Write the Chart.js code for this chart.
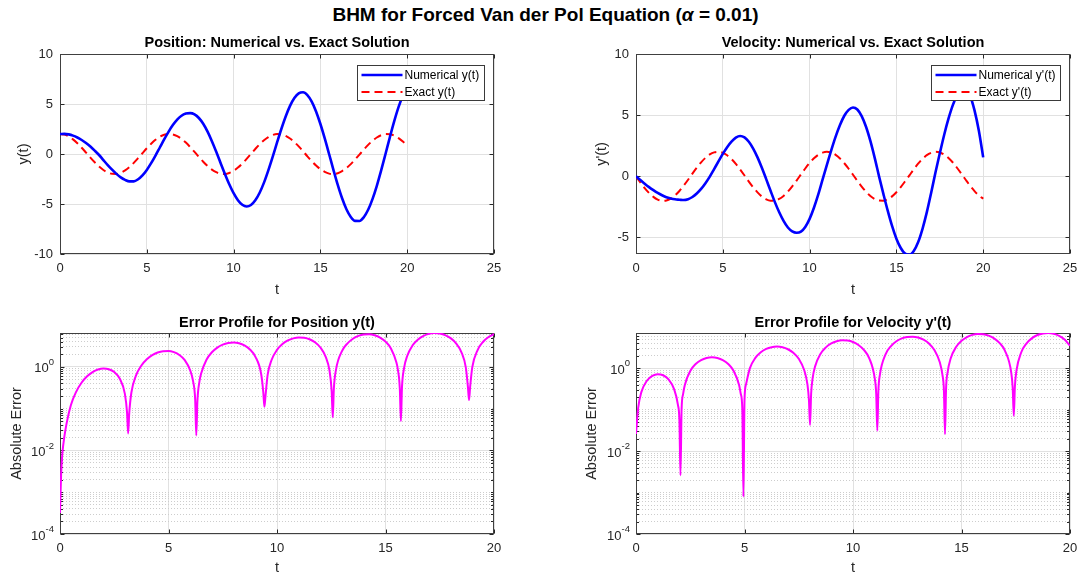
<!DOCTYPE html>
<html>
<head>
<meta charset="utf-8">
<title>BHM for Forced Van der Pol Equation</title>
<script src="https://cdn.jsdelivr.net/npm/chart.js@4.4.0/dist/chart.umd.min.js"></script>
<style>
  body { margin: 0; background: #fff; }
  #page { position: relative; width: 1091px; height: 579px; overflow: hidden; background: #fff;
          font-family: "Liberation Sans", Arial, Helvetica, sans-serif; }
  #mainTitle { position: absolute; left: 0; top: 4px; width: 1091px; line-height: 22px; text-align: center;
               font-size: 19px; font-weight: bold; color: #000; }
  .panel { position: absolute; }
</style>
</head>
<body>
<div id="page">
  <div id="mainTitle">BHM for Forced Van der Pol Equation (<i>α</i> = 0.01)</div>
  <div class="panel" style="left:0;top:30px;width:545px;height:275px"><canvas id="posChart"></canvas></div>
  <div class="panel" style="left:545px;top:30px;width:546px;height:275px"><canvas id="velChart"></canvas></div>
  <div class="panel" style="left:0;top:305px;width:545px;height:274px"><canvas id="posErrChart"></canvas></div>
  <div class="panel" style="left:545px;top:305px;width:546px;height:274px"><canvas id="velErrChart"></canvas></div>
</div>
<script>
// time grid of the solution curves
const tGrid = [0, 0.25, 0.5, 0.75, 1, 1.25, 1.5, 1.75, 2, 2.25, 2.5, 2.75, 3, 3.25, 3.5, 3.75, 4,
  4.25, 4.5, 4.75, 5, 5.25, 5.5, 5.75, 6, 6.25, 6.5, 6.75, 7, 7.25, 7.5, 7.75, 8,
  8.25, 8.5, 8.75, 9, 9.25, 9.5, 9.75, 10, 10.25, 10.5, 10.75, 11, 11.25, 11.5, 11.75, 12,
  12.25, 12.5, 12.75, 13, 13.25, 13.5, 13.75, 14, 14.25, 14.5, 14.75, 15, 15.25, 15.5, 15.75, 16,
  16.25, 16.5, 16.75, 17, 17.25, 17.5, 17.75, 18, 18.25, 18.5, 18.75, 19, 19.25, 19.5, 19.75, 20];

const yNumerical = [2.00, 2.01, 1.96, 1.84, 1.65, 1.40, 1.10, 0.75, 0.34,
  -0.10, -0.61, -1.11, -1.57, -1.99, -2.34, -2.59, -2.74,
  -2.74, -2.53, -2.14, -1.59, -0.92, -0.16, 0.65, 1.46,
  2.22, 2.89, 3.44, 3.83, 4.04, 4.09, 3.96, 3.60,
  3.02, 2.23, 1.28, 0.22, -0.90, -2.00, -3.03, -3.92,
  -4.62, -5.08, -5.25, -5.10, -4.63, -3.87, -2.86, -1.63,
  -0.28, 1.13, 2.50, 3.75, 4.81, 5.60, 6.07, 6.17,
  5.88, 5.23, 4.25, 3.00, 1.56, 0.00, -1.58, -3.09,
  -4.43, -5.52, -6.29, -6.69, -6.70, -6.32, -5.58, -4.51,
  -3.18, -1.64, 0.00, 1.67, 3.26, 4.68, 5.86, 6.72];

const yExact = [2.00, 1.94, 1.76, 1.46, 1.08, 0.63, 0.14, -0.36, -0.83,
  -1.26, -1.60, -1.85, -1.98, -1.99, -1.87, -1.64, -1.31,
  -0.89, -0.42, 0.08, 0.57, 1.02, 1.42, 1.72, 1.92,
  2.00, 1.95, 1.79, 1.51, 1.14, 0.69, 0.21, -0.29,
  -0.77, -1.20, -1.56, -1.82, -1.97, -1.99, -1.90, -1.68,
  -1.36, -0.95, -0.49, 0.01, 0.50, 0.97, 1.37, 1.69,
  1.90, 2.00, 1.97, 1.81, 1.55, 1.19, 0.76, 0.27,
  -0.23, -0.71, -1.15, -1.52, -1.79, -1.96, -2.00, -1.92,
  -1.71, -1.40, -1.01, -0.55, -0.06, 0.44, 0.91, 1.32,
  1.65, 1.88, 1.99, 1.98, 1.84, 1.59, 1.24, 0.82];

const vNumerical = [0.00, -0.30, -0.60, -0.88, -1.13, -1.36, -1.55, -1.71, -1.81,
  -1.88, -1.91, -1.94, -1.87, -1.69, -1.41, -1.03, -0.56,
  -0.02, 0.59, 1.22, 1.83, 2.38, 2.83, 3.16, 3.30,
  3.18, 2.83, 2.27, 1.55, 0.70, -0.23, -1.18, -2.11,
  -2.94, -3.64, -4.18, -4.50, -4.61, -4.52, -4.14, -3.48,
  -2.57, -1.48, -0.25, 0.96, 2.15, 3.25, 4.20, 4.95,
  5.43, 5.63, 5.46, 4.92, 4.05, 2.89, 1.51, 0.00,
  -1.43, -2.81, -4.06, -5.10, -5.86, -6.32, -6.41, -6.10,
  -5.39, -4.31, -2.95, -1.36, 0.31, 1.88, 3.38, 4.71,
  5.82, 6.63, 7.11, 7.15, 6.57, 5.39, 3.72, 1.55];

const vExact = [0.00, -0.49, -0.96, -1.36, -1.68, -1.90, -2.00, -1.97, -1.82,
  -1.56, -1.20, -0.76, -0.28, 0.22, 0.70, 1.14, 1.51,
  1.79, 1.96, 2.00, 1.92, 1.72, 1.41, 1.02, 0.56,
  0.07, -0.43, -0.90, -1.31, -1.65, -1.88, -1.99, -1.98,
  -1.85, -1.60, -1.25, -0.82, -0.35, 0.15, 0.64, 1.09,
  1.47, 1.76, 1.94, 2.00, 1.94, 1.75, 1.46, 1.07,
  0.62, 0.13, -0.37, -0.84, -1.26, -1.61, -1.85, -1.98,
  -1.99, -1.87, -1.64, -1.30, -0.88, -0.41, 0.08, 0.58,
  1.03, 1.42, 1.73, 1.92, 2.00, 1.95, 1.78, 1.50,
  1.13, 0.68, 0.20, -0.30, -0.78, -1.21, -1.57, -1.83];

// error profiles (denser around the dips)
const tErrPos = [0, 0.05, 0.1, 0.15, 0.25, 0.5, 0.75, 1, 1.25, 1.5, 1.75, 2, 2.25, 2.5, 2.75,
  2.99, 3.09, 3.14, 3.19, 3.29,
  3.5, 3.75, 4, 4.25, 4.5, 4.75, 5, 5.25, 5.5, 5.75, 6,
  6.13, 6.23, 6.28, 6.33, 6.43,
  6.5, 6.75, 7, 7.25, 7.5, 7.75, 8, 8.25, 8.5, 8.75, 9,
  9.27, 9.37, 9.42, 9.47, 9.57,
  9.75, 10, 10.25, 10.5, 10.75, 11, 11.25, 11.5, 11.75, 12, 12.25,
  12.42, 12.52, 12.57, 12.62, 12.72,
  13, 13.25, 13.5, 13.75, 14, 14.25, 14.5, 14.75, 15, 15.25, 15.5,
  15.56, 15.66, 15.71, 15.76, 15.86,
  16, 16.25, 16.5, 16.75, 17, 17.25, 17.5, 17.75, 18, 18.25, 18.5,
  18.7, 18.8, 18.85, 18.9, 19,
  19.25, 19.5, 19.75, 20];

const errPos = [0.00032, 0.0025, 0.0075, 0.0135, 0.031, 0.120, 0.256, 0.421, 0.593, 0.748, 0.861, 0.909, 0.875, 0.748, 0.525,
  0.226, 0.080, 0.0255, 0.077, 0.243,
  0.614, 1.072, 1.514, 1.902, 2.199, 2.373, 2.397, 2.244, 1.923, 1.442, 0.824,
  0.459, 0.162, 0.0228, 0.144, 0.459,
  0.683, 1.479, 2.234, 2.891, 3.400, 3.717, 3.809, 3.649, 3.242, 2.605, 1.760,
  0.675, 0.242, 0.111, 0.202, 0.651,
  1.460, 2.540, 3.501, 4.275, 4.806, 5.050, 4.972, 4.574, 3.871, 2.898, 1.705,
  0.807, 0.258, 0.0615, 0.300, 0.861,
  2.404, 3.657, 4.710, 5.491, 5.944, 6.006, 5.694, 5.017, 4.019, 2.748, 1.291,
  0.923, 0.301, 0.0503, 0.327, 0.954,
  1.820, 3.271, 4.527, 5.508, 6.153, 6.415, 6.278, 5.749, 4.859, 3.661, 2.227,
  0.971, 0.324, 0.160, 0.329, 0.980,
  2.556, 3.981, 5.167, 6.025];

const tErrVel = [0, 0.1, 0.25, 0.5, 0.75, 1, 1.25, 1.5, 1.75,
  1.93, 2.0, 2.05, 2.1, 2.17,
  2.25, 2.5, 2.75, 3, 3.25, 3.5, 3.75, 4, 4.25, 4.5, 4.75,
  4.83, 4.9, 4.95, 5.0, 5.07,
  5.25, 5.5, 5.75, 6, 6.25, 6.5, 6.75, 7, 7.25, 7.5, 7.75,
  7.9, 7.97, 8.02, 8.07, 8.14,
  8.25, 8.5, 8.75, 9, 9.25, 9.5, 9.75, 10, 10.25, 10.5, 10.75,
  11.0, 11.07, 11.12, 11.17, 11.24,
  11.5, 11.75, 12, 12.25, 12.5, 12.75, 13, 13.25, 13.5, 13.75, 14,
  14.12, 14.19, 14.24, 14.29, 14.36,
  14.5, 14.75, 15, 15.25, 15.5, 15.75, 16, 16.25, 16.5, 16.75, 17,
  17.29, 17.36, 17.41, 17.46, 17.53,
  17.75, 18, 18.25, 18.5, 18.75, 19, 19.25, 19.5, 19.75, 20];

const errVel = [0.026, 0.110, 0.269, 0.499, 0.657, 0.720, 0.678, 0.538, 0.319,
  0.132, 0.055, 0.0026, 0.100, 0.239,
  0.396, 0.862, 1.265, 1.577, 1.773, 1.840, 1.773, 1.577, 1.265, 0.862, 0.396,
  0.239, 0.100, 0.00079, 0.170, 0.408,
  1.006, 1.777, 2.432, 2.928, 3.234, 3.330, 3.208, 2.877, 2.359, 1.690, 0.907,
  0.408, 0.170, 0.043, 0.240, 0.575,
  1.095, 2.216, 3.195, 3.971, 4.493, 4.728, 4.661, 4.296, 3.657, 2.786, 1.737,
  0.575, 0.240, 0.031, 0.292, 0.700,
  2.169, 3.444, 4.500, 5.274, 5.715, 5.795, 5.509, 4.884, 3.961, 2.757, 1.390,
  0.700, 0.292, 0.0255, 0.334, 0.799,
  1.717, 3.264, 4.610, 5.675, 6.393, 6.721, 6.640, 6.150, 5.285, 4.099, 2.662,
  0.800, 0.334, 0.071, 0.360, 0.861,
  2.398, 3.997, 5.340, 6.343, 6.940, 7.094, 6.794, 6.066, 4.946, 3.507];

// tick labels
const stateXTicks = [0, 5, 10, 15, 20, 25];
const posYTicks = [-10, -5, 0, 5, 10];
const velYTicks = [-5, 0, 5, 10];
const errXTicks = [0, 5, 10, 15, 20];
const errYMajor = [1e-4, 1e-2, 1];

const FONT = '"Liberation Sans", Arial, Helvetica, sans-serif';
const TEXT = '#262626';
const GRID = '#e1e1e1';
const MINOR_GRID = '#cdcdcd';

Chart.defaults.font.family = FONT;
Chart.defaults.font.size = 13;
Chart.defaults.color = TEXT;

function pts(xs, ys) {
  return xs.map((x, i) => ({x: x, y: ys[i]}));
}

function isMajor(v) {
  return errYMajor.some(m => Math.abs(Math.log10(v) - Math.log10(m)) < 1e-6);
}

// 1..9 x 10^n grid positions for the log axes
function logGrid(max) {
  const out = [];
  for (let e = -4; e <= 1; e++) {
    for (let k = 1; k <= 9; k++) {
      const v = k * Math.pow(10, e);
      if (v <= max * 1.0001) out.push(v);
    }
  }
  return out;
}

// box around the axes with small inward ticks, like the original figure
const axesFrame = {
  id: 'axesFrame',
  beforeDatasetsDraw(chart) {
    const {ctx, chartArea: a, scales} = chart;
    const L = Math.round(a.left) + 0.5, R = Math.round(a.right) - 0.5;
    const T = Math.round(a.top) + 0.5, B = Math.round(a.bottom) - 0.5;
    ctx.save();
    ctx.strokeStyle = TEXT;
    ctx.lineWidth = 1;
    ctx.beginPath();
    scales.x.ticks.forEach(t => {
      const px = Math.round(scales.x.getPixelForValue(t.value)) + 0.5;
      ctx.moveTo(px, B); ctx.lineTo(px, B - 4);
      ctx.moveTo(px, T); ctx.lineTo(px, T + 4);
    });
    const logY = scales.y.type === 'logarithmic';
    scales.y.ticks.forEach(t => {
      const len = (!logY || isMajor(t.value)) ? 4 : 2.5;
      const py = Math.round(scales.y.getPixelForValue(t.value)) + 0.5;
      ctx.moveTo(L, py); ctx.lineTo(L + len, py);
      ctx.moveTo(R, py); ctx.lineTo(R - len, py);
    });
    ctx.stroke();
    ctx.strokeStyle = '#404040';
    ctx.strokeRect(L, T, R - L, B - T);
    ctx.restore();
  }
};

// legend box in the upper right corner of the axes
const boxLegend = {
  id: 'boxLegend',
  afterDatasetsDraw(chart, args, opts) {
    if (!opts || !opts.show) return;
    const {ctx, chartArea: a} = chart;
    const sets = chart.data.datasets;
    ctx.save();
    ctx.font = '12px ' + FONT;
    const textW = Math.max(...sets.map(d => ctx.measureText(d.label).width));
    const sample = 41;
    const w = Math.round(4 + sample + 2 + textW + 5);
    const h = 35;
    const x = Math.round(a.right - 10 - w) + 0.5;
    const y = Math.round(a.top + 11) + 0.5;
    ctx.fillStyle = '#fff';
    ctx.fillRect(x, y, w, h);
    ctx.strokeStyle = '#3a3a3a';
    ctx.lineWidth = 1;
    ctx.strokeRect(x, y, w, h);
    sets.forEach((d, i) => {
      const cy = y + 9.5 + i * 17;
      ctx.beginPath();
      ctx.setLineDash(d.borderDash || []);
      ctx.lineWidth = d.borderWidth;
      ctx.strokeStyle = d.borderColor;
      ctx.moveTo(x + 4, cy);
      ctx.lineTo(x + 4 + sample, cy);
      ctx.stroke();
      ctx.setLineDash([]);
      ctx.fillStyle = '#000';
      ctx.textBaseline = 'middle';
      ctx.textAlign = 'left';
      ctx.fillText(d.label, x + 4 + sample + 2, cy + 0.5);
    });
    ctx.restore();
  }
};

// 10^n labels with raised exponent for the log axes
const logLabels = {
  id: 'logLabels',
  afterDraw(chart, args, opts) {
    if (!opts || !opts.show) return;
    const {ctx, chartArea: a} = chart;
    const ys = chart.scales.y;
    ctx.save();
    ctx.fillStyle = TEXT;
    ctx.textBaseline = 'middle';
    ctx.textAlign = 'left';
    errYMajor.forEach(v => {
      const py = ys.getPixelForValue(v);
      const exp = String(Math.round(Math.log10(v)));
      ctx.font = '9.5px ' + FONT;
      const we = ctx.measureText(exp).width;
      ctx.font = '13px ' + FONT;
      const wb = ctx.measureText('10').width;
      const xr = a.left - 6;
      ctx.fillText('10', xr - we - wb, py + 2);
      ctx.font = '9.5px ' + FONT;
      ctx.fillText(exp, xr - we, py - 4.5);
    });
    ctx.restore();
  }
};

function makeChart(id, c) {
  const logY = !!c.log;
  const yScale = logY ? {
    type: 'logarithmic',
    min: 1e-4,
    max: c.yMax,
    afterBuildTicks: s => { s.ticks = logGrid(c.yMax).map(v => ({value: v})); },
    afterFit: s => { s.width = c.yAxisW; },
    grid: {
      drawTicks: false,
      lineWidth: 1,
      color: ctx => (ctx.tick && isMajor(ctx.tick.value)) ? GRID : MINOR_GRID
    },
    border: {
      display: false,
      dash: ctx => (ctx.tick && !isMajor(ctx.tick.value)) ? [1, 2] : []
    },
    ticks: {display: false},
    title: {display: true, text: c.yLabel, font: {size: 14.5}, color: TEXT, padding: {top: c.yTitlePad, bottom: 0}}
  } : {
    type: 'linear',
    min: c.yMin,
    max: c.yMax,
    afterBuildTicks: s => { s.ticks = c.yTicks.map(v => ({value: v})); },
    afterFit: s => { s.width = c.yAxisW; },
    grid: {drawTicks: false, lineWidth: 1, color: GRID},
    border: {display: false},
    ticks: {padding: 7, font: {size: 13}, color: TEXT, callback: v => String(v)},
    title: {display: true, text: c.yLabel, font: {size: 14.5}, color: TEXT, padding: {top: c.yTitlePad, bottom: 0}}
  };

  return new Chart(document.getElementById(id), {
    type: 'line',
    data: {datasets: c.datasets},
    options: {
      animation: false,
      responsive: true,
      maintainAspectRatio: false,
      events: [],
      layout: {padding: {left: 0, top: 0, bottom: 0, right: c.padRight}},
      elements: {point: {radius: 0}, line: {cubicInterpolationMode: 'monotone'}},
      plugins: {
        legend: {display: false},
        tooltip: {enabled: false},
        title: {
          display: true, text: c.title, fullSize: false, color: '#000',
          font: {size: 14.5, weight: 'bold'},
          padding: {top: c.titleTop, bottom: c.titleBottom}
        },
        boxLegend: {show: !logY},
        logLabels: {show: logY}
      },
      scales: {
        x: {
          type: 'linear',
          min: 0,
          max: c.xMax,
          afterBuildTicks: s => { s.ticks = c.xTicks.map(v => ({value: v})); },
          afterFit: s => { s.height = c.xAxisH; },
          grid: {drawTicks: false, lineWidth: 1, color: GRID},
          border: {display: false},
          ticks: {padding: 7, maxRotation: 0, autoSkip: false, font: {size: 13}, color: TEXT, callback: v => String(v)},
          title: {display: true, text: 't', font: {size: 14.5}, color: TEXT, padding: {top: 0, bottom: c.xTitleBottom}}
        },
        y: yScale
      }
    },
    plugins: [axesFrame, boxLegend, logLabels]
  });
}

const numStyle = {borderColor: '#0000ff', borderWidth: 2.6, fill: false};
const exactStyle = {borderColor: '#ff0000', borderWidth: 2, borderDash: [8, 5], fill: false};
const errStyle = {borderColor: '#ff00ff', borderWidth: 2, fill: false};

makeChart('posChart', {
  title: 'Position: Numerical vs. Exact Solution',
  yLabel: 'y(t)',
  datasets: [
    Object.assign({label: 'Numerical y(t)', data: pts(tGrid, yNumerical)}, numStyle),
    Object.assign({label: 'Exact y(t)', data: pts(tGrid, yExact)}, exactStyle)
  ],
  xMax: 25, xTicks: stateXTicks,
  yMin: -10, yMax: 10, yTicks: posYTicks,
  yAxisW: 60, padRight: 51, xAxisH: 51,
  titleTop: 4.3, titleBottom: 2.3, xTitleBottom: 6.3, yTitlePad: 15.3
});

makeChart('velChart', {
  title: 'Velocity: Numerical vs. Exact Solution',
  yLabel: "y'(t)",
  datasets: [
    Object.assign({label: "Numerical y'(t)", data: pts(tGrid, vNumerical)}, numStyle),
    Object.assign({label: "Exact y'(t)", data: pts(tGrid, vExact)}, exactStyle)
  ],
  xMax: 25, xTicks: stateXTicks,
  yMin: -6.35, yMax: 10, yTicks: velYTicks,
  yAxisW: 91, padRight: 21, xAxisH: 51,
  titleTop: 4.3, titleBottom: 2.3, xTitleBottom: 6.3, yTitlePad: 48.3
});

makeChart('posErrChart', {
  title: 'Error Profile for Position y(t)',
  yLabel: 'Absolute Error',
  log: true,
  datasets: [Object.assign({label: 'Position error', data: pts(tErrPos, errPos)}, errStyle)],
  xMax: 20, xTicks: errXTicks,
  yMax: 6.45,
  yAxisW: 60, padRight: 51, xAxisH: 45,
  titleTop: 9.3, titleBottom: 1.3, xTitleBottom: 2.3, yTitlePad: 8.3
});

makeChart('velErrChart', {
  title: "Error Profile for Velocity y'(t)",
  yLabel: 'Absolute Error',
  log: true,
  datasets: [Object.assign({label: 'Velocity error', data: pts(tErrVel, errVel)}, errStyle)],
  xMax: 20, xTicks: errXTicks,
  yMax: 7.1,
  yAxisW: 91, padRight: 21, xAxisH: 45,
  titleTop: 9.3, titleBottom: 1.3, xTitleBottom: 2.3, yTitlePad: 38.3
});
</script>
</body>
</html>
